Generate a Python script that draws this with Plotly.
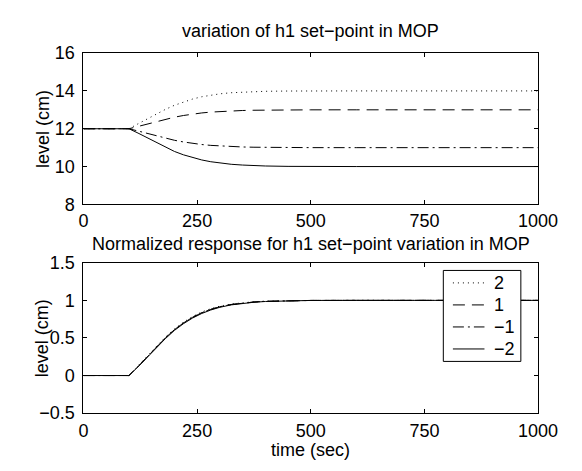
import plotly.graph_objects as go

# time samples (sec)
t = [0, 100, 120, 140, 160, 180, 200, 220, 240, 260, 280, 300, 325, 350, 375, 400, 450, 500, 600, 1000]

# h1 level (cm) for each set-point step
h_p2 = [12, 12, 12.26, 12.52, 12.78, 13.02, 13.24, 13.42, 13.57, 13.69, 13.78, 13.846, 13.904, 13.94, 13.964, 13.98, 13.994, 13.998, 14, 14]
h_p1 = [12, 12, 12.12, 12.25, 12.38, 12.5, 12.61, 12.7, 12.775, 12.835, 12.88, 12.915, 12.945, 12.965, 12.978, 12.987, 12.996, 12.999, 13, 13]
h_m1 = [12, 12, 11.88, 11.75, 11.62, 11.5, 11.39, 11.3, 11.225, 11.165, 11.12, 11.085, 11.055, 11.035, 11.022, 11.013, 11.004, 11.001, 11, 11]
h_m2 = [12, 12, 11.77, 11.52, 11.26, 11.02, 10.8, 10.62, 10.47, 10.35, 10.256, 10.184, 10.12, 10.08, 10.05, 10.03, 10.01, 10.002, 10, 10]

steps = [2, 1, -1, -2]
names = ["2", "1", "\u22121", "\u22122"]
series = [h_p2, h_p1, h_m1, h_m2]
h0 = 12

x_ticks = [0, 250, 500, 750, 1000]
y1_ticks = [8, 10, 12, 14, 16]
y2_ticks = [-0.5, 0, 0.5, 1, 1.5]
y2_text = ["\u22120.5", "0", "0.5", "1", "1.5"]

dashes = ["1px,4px", "12px,7px", "11px,4px,2px,4px", "solid"]

FONT = "Liberation Sans, Arial, sans-serif"
FS = 18
fig = go.Figure()

for name, h, d, k in zip(names, series, dashes, steps):
    fig.add_trace(go.Scatter(x=t, y=h, mode="lines", name=name, showlegend=False,
                             line=dict(color="black", width=1, dash=d),
                             xaxis="x", yaxis="y"))
    norm = [(v - h0) / k for v in h]
    fig.add_trace(go.Scatter(x=t, y=norm, mode="lines", name=name, showlegend=False,
                             line=dict(color="black", width=1, dash=d),
                             xaxis="x2", yaxis="y2"))

W, H = 582, 471
L, R = 82, 557
T1, B1 = 45, 203
T2, B2 = 264, 421

axis_common = dict(showline=True, linecolor="black", linewidth=1, mirror="ticks",
                   ticks="inside", ticklen=4, tickcolor="black", showgrid=False,
                   zeroline=False, tickfont=dict(family=FONT, size=FS, color="black"))

fig.update_layout(
    width=W, height=H,
    margin=dict(l=0, r=0, t=0, b=0),
    paper_bgcolor="white", plot_bgcolor="white",
    font=dict(family=FONT, size=FS, color="black"),
    xaxis=dict(domain=[L / W, R / W], range=[0, 1000], tickvals=x_ticks, anchor="y",
               ticklabelstandoff=0, **axis_common),
    yaxis=dict(domain=[1 - B1 / H, 1 - T1 / H], range=[8, 16], tickvals=y1_ticks, anchor="x",
               ticklabelstandoff=4, **axis_common),
    xaxis2=dict(domain=[L / W, R / W], range=[0, 1000], tickvals=x_ticks, anchor="y2",
                ticklabelstandoff=1, **axis_common),
    yaxis2=dict(domain=[1 - B2 / H, 1 - T2 / H], range=[-0.5, 1.5], tickvals=y2_ticks,
                ticktext=y2_text, anchor="x2", ticklabelstandoff=4, **axis_common),
    showlegend=False,
)

anns = [
    dict(text="variation of h1 set\u2212point in MOP", x=(L + R) / 2 / W, y=1 - 22 / H, yanchor="middle"),
    dict(text="Normalized response for h1 set\u2212point variation in MOP", x=(L + R) / 2 / W, y=1 - 244 / H, yanchor="middle"),
    dict(text="time (sec)", x=(L + R) / 2 / W, y=0, yanchor="bottom"),
    dict(text="level (cm)", x=39 / W, y=1 - (T1 + B1) / 2 / H, textangle=-90, yanchor="middle"),
    dict(text="level (cm)", x=39 / W, y=1 - (T2 + B2) / 2 / H, textangle=-90, yanchor="middle"),
]
for a in anns:
    fig.add_annotation(xref="paper", yref="paper", showarrow=False,
                       xanchor="center", borderpad=0,
                       font=dict(family=FONT, size=FS, color="black"), **a)

# legend box (lower panel, upper right)
LX0, LX1, LY0, LY1 = 458, 539, 272, 367
fig.add_shape(type="rect", xref="paper", yref="paper",
              x0=LX0 / W, x1=LX1 / W, y0=1 - LY1 / H, y1=1 - LY0 / H,
              line=dict(color="black", width=1), fillcolor="white", layer="above")
row_y = [285, 308, 331, 354]
for name, d, ry in zip(names, dashes, row_y):
    fig.add_shape(type="line", xref="paper", yref="paper",
                  x0=468 / W, x1=501 / W, y0=1 - ry / H, y1=1 - ry / H,
                  line=dict(color="black", width=1, dash=d), layer="above")
    fig.add_annotation(xref="paper", yref="paper", showarrow=False,
                       x=509 / W, y=1 - ry / H, xanchor="left", yanchor="middle",
                       text=name, font=dict(family=FONT, size=FS, color="black"))

fig.write_html("out.html")
